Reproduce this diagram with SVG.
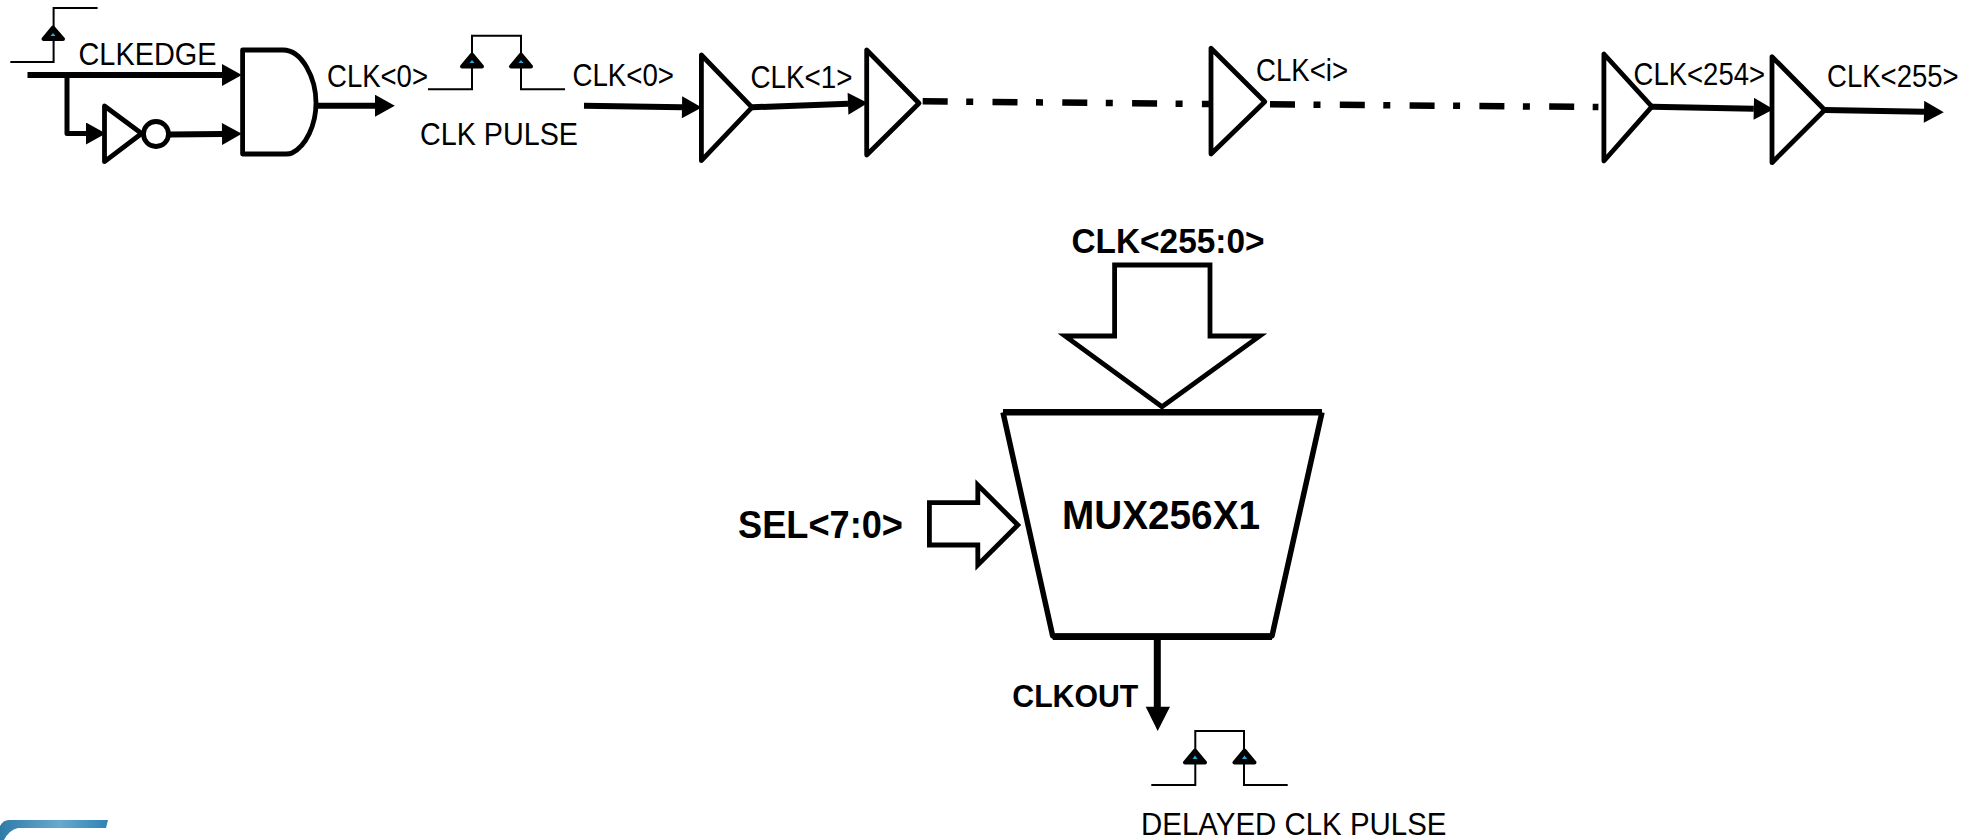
<svg xmlns="http://www.w3.org/2000/svg" width="1977" height="840" viewBox="0 0 1977 840">
<style>
text{font-family:"Liberation Sans",Arial,sans-serif;fill:#000;font-size:32px}
.b{font-weight:bold}
.g{fill:#fff;stroke:#000;stroke-width:4.8;stroke-linejoin:round}
.w{fill:none;stroke:#000;stroke-width:6}
.p{fill:none;stroke:#000;stroke-width:2}
.t{fill:#000;stroke:#000;stroke-width:4;stroke-linejoin:round}
.d{fill:#29abe2}
</style>
<defs>
<marker id="ah" markerUnits="userSpaceOnUse" markerWidth="22" markerHeight="22" viewBox="0 0 18 20" refX="0" refY="10" orient="auto"><path d="M0,0L18,10L0,20Z" fill="#000"/></marker>
<linearGradient id="lg" x1="0" x2="1" y1="0" y2="0"><stop offset="0" stop-color="#2f7ba8"/><stop offset="0.55" stop-color="#68a9cd"/><stop offset="1" stop-color="#2f82b5"/></linearGradient>
</defs>
<g id="connectors">
<path class="w" d="M27.5,75H222" marker-end="url(#ah)"/>
<path class="w" style="stroke-width:5;stroke-linejoin:round" d="M67,75V133.5H86" marker-end="url(#ah)"/>
<path class="w" d="M170,134.5L222,134" marker-end="url(#ah)"/>
<path class="w" d="M318,105.7H375" marker-end="url(#ah)"/>
<path class="w" d="M584,105.7L682,107.3" marker-end="url(#ah)"/>
<path class="w" d="M752,107.3L848,103.8" marker-end="url(#ah)"/>
<path class="w" style="stroke-width:6.5;stroke-dasharray:25 18.5 7 19.3" d="M922.7,101.3L1209.7,104"/>
<path class="w" style="stroke-width:6.5;stroke-dasharray:25 18.5 7 19.3" d="M1270,104.3L1598.4,107"/>
<path class="w" d="M1651.9,106.7L1753.8,108.8" marker-end="url(#ah)"/>
<path class="w" d="M1824.7,110L1924,111.8" marker-end="url(#ah)"/>
<path class="w" style="stroke-width:7" d="M1157.3,636V707"/>
<path d="M1145.7,706.7H1170L1157.7,731Z" fill="#000"/>
</g>
<g id="clkedge-wave">
<path class="p" d="M10.3,62H53.6V8H97.6"/>
<path class="t" d="M53,27.5L43.5,39H63Z"/><path class="d" d="M53,33L50.5,36H55.5Z"/>
<text x="78.5" y="64.5" textLength="138" lengthAdjust="spacingAndGlyphs">CLKEDGE</text>
</g>
<g id="inverter">
<path class="g" d="M104.5,106V161.7L141.6,133.5Z"/>
<circle class="g" cx="156" cy="134" r="12.5"/>
</g>
<g id="and-gate">
<path class="g" d="M242.6,50H283C302,50 316,78 316,103C316,125 306,146 292,153Q290,154 286,154H242.6Z"/>
<text x="327" y="87" textLength="101" lengthAdjust="spacingAndGlyphs">CLK&lt;0&gt;</text>
</g>
<g id="clk-pulse">
<path class="p" d="M428,89.3H472V35.7H521V89.3H565"/>
<path class="t" d="M472,54.5L462,66.5H482Z"/><path class="d" d="M472,60L469.5,63H474.5Z"/>
<path class="t" d="M521,54.5L511,66.5H531Z"/><path class="d" d="M521,60L518.5,63H523.5Z"/>
<text x="420" y="144.5" textLength="158" lengthAdjust="spacingAndGlyphs">CLK PULSE</text>
</g>
<g id="buf-0">
<path class="g" d="M701.4,55V160.7L752,107.3Z"/>
<text x="572.4" y="86" textLength="101.6" lengthAdjust="spacingAndGlyphs">CLK&lt;0&gt;</text>
</g>
<g id="buf-1">
<path class="g" d="M866.7,50V155L919,103.3Z"/>
<text x="750.5" y="88.3" textLength="102" lengthAdjust="spacingAndGlyphs">CLK&lt;1&gt;</text>
</g>
<g id="buf-i">
<path class="g" d="M1211,48.3V154L1264.8,101.7Z"/>
<text x="1256" y="81" textLength="92" lengthAdjust="spacingAndGlyphs">CLK&lt;i&gt;</text>
</g>
<g id="buf-254">
<path class="g" d="M1603.9,54V161L1651.9,106.7Z"/>
<text x="1633.6" y="85" textLength="131.4" lengthAdjust="spacingAndGlyphs">CLK&lt;254&gt;</text>
</g>
<g id="buf-255">
<path class="g" d="M1772,56.7V162.7L1824.7,110Z"/>
<text x="1827" y="87" textLength="131.7" lengthAdjust="spacingAndGlyphs">CLK&lt;255&gt;</text>
</g>
<g id="bus-clk">
<path class="g" d="M1114.6,265H1210V336H1259.8L1162,406.7L1065,336H1114.6Z" style="stroke-linejoin:miter"/>
<text class="b" x="1071.5" y="253" style="font-size:35px" textLength="193" lengthAdjust="spacingAndGlyphs">CLK&lt;255:0&gt;</text>
</g>
<g id="mux">
<path class="g" d="M1003,412.3L1052.7,636H1272L1322,412.3" style="fill:#fff;stroke-width:5.5"/>
<path d="M1003,412.3H1322M1052.7,636.7H1272" stroke="#000" stroke-width="6.5" fill="none"/>
<text class="b" x="1062" y="529" style="font-size:41px" textLength="198" lengthAdjust="spacingAndGlyphs">MUX256X1</text>
</g>
<g id="bus-sel">
<path class="g" d="M929.4,502.7H977.8V485L1017.8,525L977.8,565V545H929.4Z" style="stroke-linejoin:miter"/>
<text class="b" x="738" y="538" style="font-size:38px" textLength="165" lengthAdjust="spacingAndGlyphs">SEL&lt;7:0&gt;</text>
</g>
<g id="clkout">
<text class="b" x="1012.3" y="706.5" style="font-size:31px" textLength="126" lengthAdjust="spacingAndGlyphs">CLKOUT</text>
</g>
<g id="delayed-pulse">
<path class="p" d="M1151.3,785H1195.3V731H1244V785H1287.7"/>
<path class="t" d="M1195,750.5L1185,762.5H1205Z"/><path class="d" d="M1195,755.5L1192.5,759H1197.5Z"/>
<path class="t" d="M1244.5,750.5L1234.5,762.5H1254.5Z"/><path class="d" d="M1244.5,755.5L1242,759H1247Z"/>
<text x="1141" y="835" textLength="305.5" lengthAdjust="spacingAndGlyphs">DELAYED CLK PULSE</text>
</g>
<path id="logo" d="M0,826Q3,820 9,820H108L106,828H18Q9,830 4,840H0Z" fill="url(#lg)"/>
</svg>
